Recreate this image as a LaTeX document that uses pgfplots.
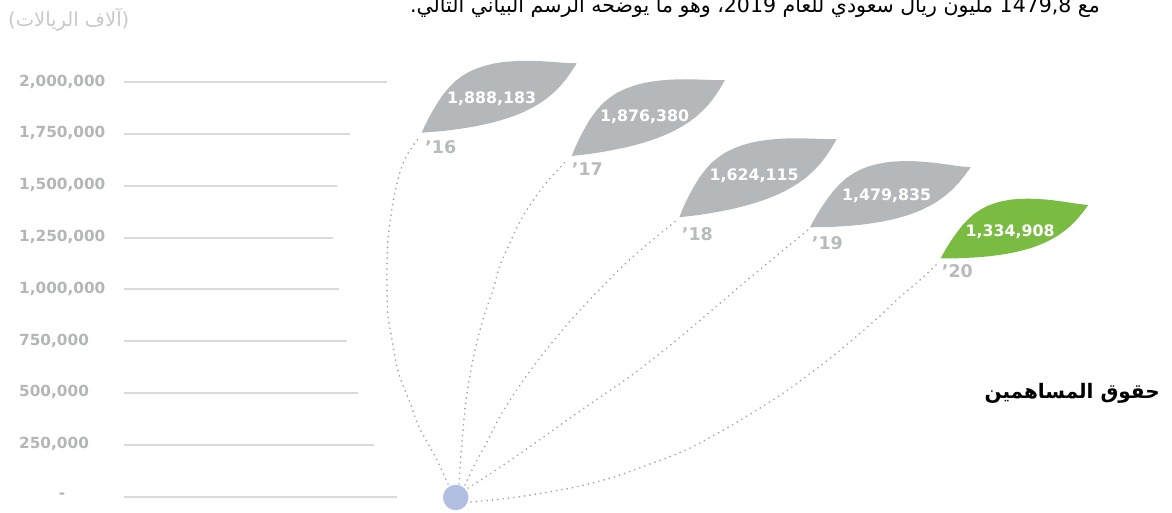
\documentclass[border=0pt]{standalone}
\usepackage{fontspec}
\usepackage{pgfplots}
\usepackage{pgfplotstable}
\pgfplotsset{compat=1.18}
\TeXXeTstate=1
\setmainfont{DejaVu Sans}
\newfontfamily\arabicfont[Script=Arabic]{DejaVu Sans}
\definecolor{leafgray}{HTML}{B5B8BB}
\definecolor{leafgreen}{HTML}{7ABB42}
\definecolor{gridc}{HTML}{DADADA}
\definecolor{labc}{HTML}{B4B5B7}
\definecolor{yearc}{HTML}{B8BABC}
\definecolor{dotc}{HTML}{B0BFE2}
\definecolor{curvc}{HTML}{A4A5A7}
\definecolor{unitc}{HTML}{C8C8C8}

% leaf outline template: u along base->tip chord, v perpendicular
\pgfplotstableread{
u v
0 0
0.03 0.027
0.06 0.052
0.10 0.083
0.15 0.118
0.20 0.150
0.25 0.175
0.30 0.195
0.35 0.207
0.40 0.213
0.45 0.213
0.50 0.208
0.55 0.199
0.60 0.186
0.65 0.169
0.70 0.150
0.75 0.128
0.80 0.104
0.85 0.078
0.90 0.051
0.95 0.024
1.00 0
0.95 -0.033
0.90 -0.062
0.85 -0.086
0.80 -0.104
0.75 -0.118
0.70 -0.127
0.65 -0.132
0.60 -0.134
0.55 -0.133
0.50 -0.129
0.45 -0.123
0.40 -0.115
0.35 -0.105
0.30 -0.094
0.25 -0.081
0.20 -0.067
0.15 -0.052
0.10 -0.036
0.05 -0.018
0 0
}\leafshape

% dotted connector curves (x in px, py in px from top)
\pgfplotstableread{
x py
448 484
437 460
426 440
418 425
409 400
402 383
397 367
392 340
388 315
387 290
387 265
388 240
391 215
395 192
400 172
407 155
418 139
}\cA
\pgfplotstableread{
x py
459 484
461 455
463 430
466 400
470 375
475 350
480 330
486 310
493 290
500 265
509 245
518 225
530 205
543 187
555 173
567 160
}\cB
\pgfplotstableread{
x py
465 485
476 462
487 442
498 420
510 400
525 378
542 355
560 333
580 310
602 287
625 264
650 242
676 221
}\cC
\pgfplotstableread{
x py
468 488
490 474
518 455
545 436
570 418
596 400
632 375
668 347
704 317
739 287
775 257
808 230
}\cD
\pgfplotstableread{
x py
471 502
510 498
543 493
580 486
614 477
650 464
686 450
720 432
757 410
785 392
811 373
838 352
864 330
882 314
900 297
920 280
937 264
}\cE

\newcommand{\leaf}[5]{%
  \addplot[fill=#5, draw=none] table[x expr={#1+\thisrow{u}*(#3-#1)-\thisrow{v}*(#2-#4)},
    y expr={(496.7-#2+\thisrow{u}*(#2-#4)+\thisrow{v}*(#3-#1))*4826.25}] {\leafshape};
}
\newcommand{\curve}[1]{%
  \addplot[smooth, color=curvc, line width=1.9pt, line cap=round, dash pattern=on 0pt off 5.4pt]
    table[x=x, y expr={(496.7-\thisrow{py})*4826.25}] {#1};
}

\begin{document}
\begin{tikzpicture}
\begin{axis}[
  at={(0,0)}, anchor=south west,
  scale only axis, width=1172pt, height=513pt,
  xmin=0, xmax=1172, ymin=-78668, ymax=2397198,
  hide axis, clip=false,
]
% grid lines
\addplot[gridc, line width=2pt] coordinates {(124,2000000) (387,2000000)};
\addplot[gridc, line width=2pt] coordinates {(124,1750000) (350,1750000)};
\addplot[gridc, line width=2pt] coordinates {(124,1500000) (337,1500000)};
\addplot[gridc, line width=2pt] coordinates {(124,1250000) (333,1250000)};
\addplot[gridc, line width=2pt] coordinates {(124,1000000) (339,1000000)};
\addplot[gridc, line width=2pt] coordinates {(124,750000) (347,750000)};
\addplot[gridc, line width=2pt] coordinates {(124,500000) (358,500000)};
\addplot[gridc, line width=2pt] coordinates {(124,250000) (374,250000)};
\addplot[gridc, line width=2pt] coordinates {(124,0) (397,0)};

% axis labels
\begin{scope}[every node/.style={font=\bfseries\fontsize{15.3}{18}\selectfont, text=labc, anchor=west, inner sep=0pt}]
\node at (axis cs:19,2004000) {2,000,000};
\node at (axis cs:19,1754000) {1,750,000};
\node at (axis cs:19,1504000) {1,500,000};
\node at (axis cs:19,1254000) {1,250,000};
\node at (axis cs:19,1004000) {1,000,000};
\node at (axis cs:19,754000) {750,000};
\node at (axis cs:19,504000) {500,000};
\node at (axis cs:19,254000) {250,000};
\end{scope}
\node[font=\bfseries\fontsize{15.3}{18}\selectfont, text=labc, anchor=base, inner sep=0pt] at (axis cs:62,-11100) {-};

% connectors
\curve{\cA}
\curve{\cB}
\curve{\cC}
\curve{\cD}
\curve{\cE}

% leaves
\leaf{421.7}{132.7}{576.7}{63.3}{leafgray}
\leaf{571.7}{156}{725}{80}{leafgray}
\leaf{679.3}{217.3}{836.7}{139}{leafgray}
\leaf{810}{227.3}{970.7}{167.3}{leafgray}
\leaf{940.7}{258.3}{1088.3}{205}{leafgreen}

% origin dot
\addplot[only marks, mark=*, color=dotc, mark size=12.5pt] coordinates {(455.7,-3861)};

% values in leaves
\begin{scope}[every node/.style={font=\bfseries\fontsize{15.8}{18}\selectfont, text=white, inner sep=0pt}]
\node at (axis cs:491.7,1922778) {1,888,183};
\node at (axis cs:644.7,1833975) {1,876,380};
\node at (axis cs:754,1547779) {1,624,115};
\node at (axis cs:886.7,1454632) {1,479,835};
\node at (axis cs:1010,1278956) {1,334,908};
\end{scope}

% year labels
\begin{scope}[every node/.style={font=\bfseries\fontsize{17.5}{20}\selectfont, text=yearc, anchor=west, inner sep=0pt}]
\node at (axis cs:425,1685327) {’16};
\node at (axis cs:571.7,1581562) {’17};
\node at (axis cs:681.7,1267856) {’18};
\node at (axis cs:811.7,1224420) {’19};
\node at (axis cs:941.7,1089285) {’20};
\end{scope}

% texts
\node[anchor=west, inner sep=0pt, text=unitc, font=\fontsize{19.5}{23}\selectfont] at (axis cs:8,2300673) {({\arabicfont\beginR آلاف الريالات\endR})};
\node[anchor=east, inner sep=0pt, text=black, font=\bfseries\fontsize{20}{24}\selectfont] at (axis cs:1160,500482) {{\arabicfont\beginR حقوق المساهمين\endR}};
\node[anchor=base east, inner sep=0pt, text=black, font=\fontsize{20.5}{24}\selectfont] at (axis cs:1100,2334457) {\arabicfont\beginR مع {\rmfamily\beginL 1479,8\endL} مليون ريال سعودي للعام {\rmfamily\beginL 2019\endL}، وهو ما يوضحه الرسم البياني التالي.\endR};
\end{axis}
\pgfresetboundingbox
\useasboundingbox (0,0) rectangle (1172pt,513pt);
\end{tikzpicture}
\end{document}
